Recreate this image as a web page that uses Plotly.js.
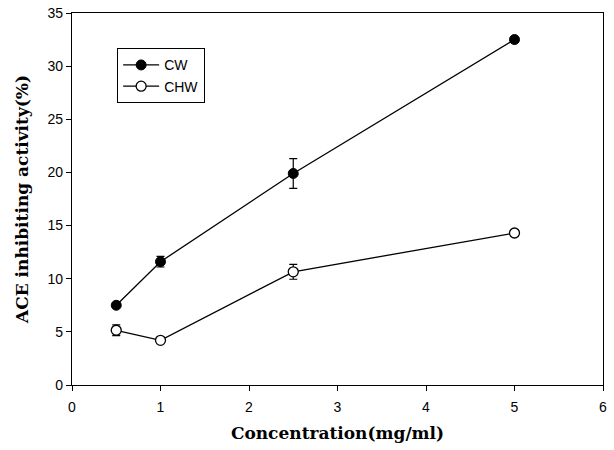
<!DOCTYPE html>
<html>
<head>
<meta charset="utf-8">
<script src="https://cdn.plot.ly/plotly-3.0.1.min.js"></script>
<style>html,body{margin:0;padding:0;background:#fff;}#chart{width:614px;height:450px;}</style>
</head>
<body>
<div id="chart"></div>
<script>
const concentration = [0.5, 1, 2.5, 5];
const cwValues = [7.5, 11.6, 19.9, 32.5];
const cwErrors = [0.2, 0.5, 1.4, 0.2];
const chwValues = [5.15, 4.2, 10.65, 14.3];
const chwErrors = [0.5, 0.15, 0.7, 0.3];
const xTicks = [0, 1, 2, 3, 4, 5, 6];
const yTicks = [0, 5, 10, 15, 20, 25, 30, 35];

const traces = [
  {
    x: concentration, y: cwValues, name: 'CW', type: 'scatter', mode: 'lines+markers',
    line: {color: '#000', width: 1.3},
    marker: {symbol: 'circle', size: 10, color: '#000', line: {color: '#000', width: 1}},
    error_y: {type: 'data', array: cwErrors, visible: true, color: '#000', thickness: 1.2, width: 4}
  },
  {
    x: concentration, y: chwValues, name: 'CHW', type: 'scatter', mode: 'lines+markers',
    line: {color: '#000', width: 1.3},
    marker: {symbol: 'circle', size: 10, color: '#fff', line: {color: '#000', width: 1.3}},
    error_y: {type: 'data', array: chwErrors, visible: true, color: '#000', thickness: 1.2, width: 4}
  }
];

const layout = {
  width: 614, height: 450,
  margin: {l: 72, r: 11, t: 13, b: 65},
  paper_bgcolor: '#fff', plot_bgcolor: '#fff',
  font: {family: 'Arial, Liberation Sans, sans-serif', color: '#000', size: 13},
  showlegend: true,
  legend: {
    x: 0.085, y: 0.905, xanchor: 'left', yanchor: 'top',
    bordercolor: '#000', borderwidth: 1, bgcolor: '#fff',
    font: {size: 14, family: 'Arial, Liberation Sans, sans-serif'},
    itemwidth: 36, tracegroupgap: 0
  },
  xaxis: {
    range: [0, 6], tickvals: xTicks, ticktext: xTicks.map(String),
    showgrid: false, zeroline: false, showline: true, linecolor: '#000', linewidth: 1.2,
    mirror: true, ticks: 'outside', ticklen: 5, tickcolor: '#000', tickwidth: 1,
    tickfont: {size: 14}, ticklabelstandoff: 4,
    title: {text: 'Concentration(mg/ml)', font: {family: 'DejaVu Serif, serif', size: 17, weight: 'bold'}, standoff: 13}
  },
  yaxis: {
    range: [0, 35], tickvals: yTicks, ticktext: yTicks.map(String),
    showgrid: false, zeroline: false, showline: true, linecolor: '#000', linewidth: 1.2,
    mirror: true, ticks: 'outside', ticklen: 5, tickcolor: '#000', tickwidth: 1,
    tickfont: {size: 14},
    title: {text: 'ACE inhibiting activity(%)', font: {family: 'DejaVu Serif, serif', size: 17, weight: 'bold'}, standoff: 14}
  }
};

Plotly.newPlot('chart', traces, layout, {displayModeBar: false, staticPlot: true});
</script>
</body>
</html>
